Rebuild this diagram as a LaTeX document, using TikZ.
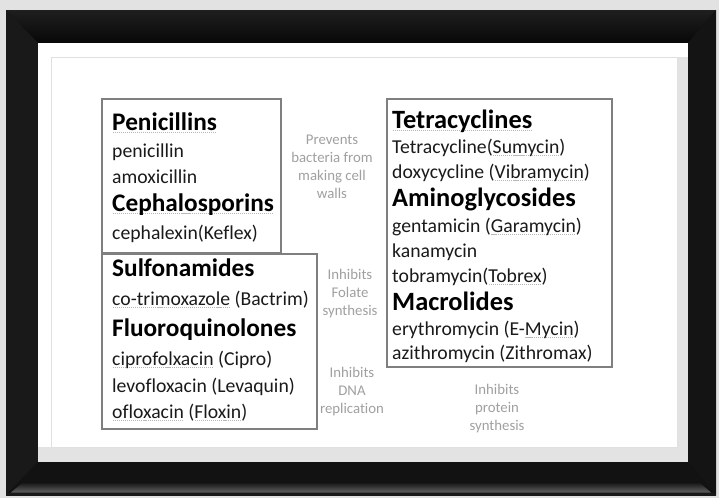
\documentclass[tikz,border=0pt]{standalone}
\usepackage{fontspec}
\setmainfont{Carlito}[Ligatures={NoCommon}]
\definecolor{bgout}{HTML}{E2E2E2}
\definecolor{boxline}{HTML}{7F7F7F}
\definecolor{labgray}{HTML}{A0A0A0}
\definecolor{matline}{HTML}{E0E0E0}
\definecolor{matshadow}{HTML}{E3E3E3}
\definecolor{txt}{HTML}{1A1A1A}
\newcommand\bodyfont{\fontsize{19.7}{24}\selectfont}
\newcommand\headfont{\fontsize{25.3}{30}\selectfont\bfseries}
\newcommand\headfontr{\fontsize{26.4}{30}\selectfont\bfseries}
\newcommand\labfont{\fontsize{14.8}{18}\selectfont}
\newcommand\pu[1]{\setbox0\hbox{#1}\rlap{\color{black!28}\hbox to \wd0{\xleaders\hbox to 2pt{\hss\vrule height -2.4pt depth 3.4pt width 1.1pt\hss}\hfill}}\box0\relax}
\begin{document}
\begin{tikzpicture}[x=1pt,y=-1pt,
  box/.style={draw=boxline,line width=1.3pt,anchor=north west,inner sep=0pt,outer sep=0pt},
  body/.style={anchor=base west,inner sep=0pt,font=\bodyfont,text=txt},
  head/.style={anchor=base west,inner sep=0pt,font=\headfont,text=black},
  headr/.style={anchor=base west,inner sep=0pt,font=\headfontr,text=black},
  lab/.style={align=center,inner sep=0pt,font=\labfont,text=labgray}]
\useasboundingbox (0,0) rectangle (719,498);
% background
\fill[bgout] (0,0) rectangle (719,498);
% frame
\fill[black!95] (6,10) rectangle (716,495);
\shade[top color=black!88,bottom color=black!97] (6,10)--(716,10)--(688,43)--(38,43)--cycle;
\fill[black!90] (6,10)--(38,43)--(38,462)--(6,495)--cycle;
\fill[black!92] (716,10)--(688,43)--(688,462)--(716,495)--cycle;
\fill[black!93] (6,495)--(38,462)--(688,462)--(716,495)--cycle;
\shade[top color=black!90,bottom color=black!62] (22,483)--(700,483)--(711,492.5)--(11,492.5)--cycle;
\fill[black!90] (6,492.5) rectangle (716,495.5);
% mat
\fill[white] (38,43) rectangle (688,462);
\fill[matshadow] (38,447) rectangle (688,462);
\fill[matshadow] (677,57) rectangle (688,462);
\draw[matline,line width=0.8pt] (51,57) rectangle (677,447);
% boxes
\node[box,minimum width=179pt,minimum height=154pt] (bpen) at (102,99) {};
\node[box,minimum width=215pt,minimum height=175pt] (bsul) at (102,254) {};
\node[box,minimum width=225pt,minimum height=268pt] (btet) at (387,99) {};
% box 1 text
\node[head] (h1) at (112,130) {\pu{Penicillins}};
\node[body] (t11) at (112,157) {penicillin};
\node[body] (t12) at (112,183) {amoxicillin};
\node[head] (h2) at (112,211) {\pu{Cephalosporins}};
\node[body] (t21) at (112,239) {cephalexin(Keflex)};
% box 2 text
\node[head] (h3) at (112,276) {Sulfonamides};
\node[body] (t31) at (112,305) {\pu{co-trimoxazole} (Bactrim)};
\node[head] (h4) at (112,336) {Fluoroquinolones};
\node[body] (t41) at (112,365) {\pu{ciprofolxacin} (Cipro)};
\node[body] (t42) at (112,392) {levofloxacin (Levaquin)};
\node[body] (t43) at (112,418) {\pu{ofloxacin} (\pu{Floxin})};
% box 3 text
\node[headr] (h5) at (392,128) {\pu{Tetracyclines}};
\node[body] (t51) at (392,153) {Tetracycline(\pu{Sumycin})};
\node[body] (t52) at (392,178) {doxycycline (\pu{Vibramycin})};
\node[headr] (h6) at (392,206) {Aminoglycosides};
\node[body] (t61) at (392,232) {gentamicin (\pu{Garamycin})};
\node[body] (t62) at (392,257) {kanamycin};
\node[body] (t63) at (392,282) {tobramycin(\pu{Tobrex})};
\node[headr] (h7) at (392,310) {Macrolides};
\node[body] (t71) at (392,335) {erythromycin (E-\pu{Mycin})};
\node[body] (t72) at (392,359) {azithromycin (Zithromax)};
% gray labels
\node[lab] (l1) at (332,167) {Prevents\\bacteria from\\making cell\\walls};
\node[lab] (l2) at (350,294) {Inhibits\\Folate\\synthesis};
\node[lab] (l3) at (352,392) {Inhibits\\DNA\\replication};
\node[lab] (l4) at (497,409) {Inhibits\\protein\\synthesis};
\end{tikzpicture}
\end{document}
